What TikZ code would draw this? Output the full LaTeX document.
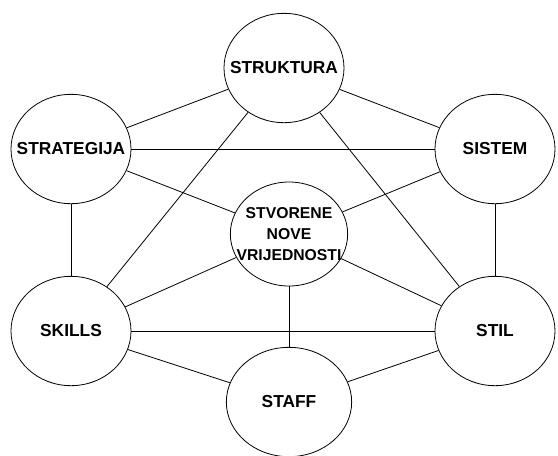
\documentclass[tikz,border=0pt]{standalone}
\usepackage{fontspec}
\setmainfont{Liberation Sans}
\usetikzlibrary{shapes.geometric,positioning}

\begin{document}
\begin{tikzpicture}[x=0.75pt,y=-0.75pt,
  sbox/.style={draw, ellipse, line width=0.6pt, minimum width=90pt, minimum height=82pt, inner xsep=-25pt, inner ysep=0pt, font=\fontsize{13}{14}\selectfont\bfseries},
  link/.style={line width=0.6pt}]
\useasboundingbox (0,0) rectangle (558,455);
\node[sbox] (struktura) at (284,68) {STRUKTURA};
\node[sbox] (strategija) at (71,149) {STRATEGIJA};
\node[sbox] (sistem) at (495,149) {SISTEM};
\node[sbox, align=center, font=\fontsize{11.8}{15.5}\selectfont\bfseries, minimum width=88pt, minimum height=78pt] (vrijednosti) at (289,234) {STVORENE\\NOVE\\VRIJEDNOSTI};
\node[sbox] (skills) at (71,331) {SKILLS};
\node[sbox] (stil) at (495,331) {STIL};
\node[sbox, minimum width=94pt] (staff) at (289,402) {STAFF};

\draw[link] (struktura) -- (strategija);
\draw[link] (struktura) -- (sistem);
\draw[link] (struktura) -- (skills);
\draw[link] (struktura) -- (stil);
\draw[link] (strategija) -- (sistem);
\draw[link] (strategija) -- (vrijednosti);
\draw[link] (strategija) -- (skills);
\draw[link] (sistem) -- (vrijednosti);
\draw[link] (sistem) -- (stil);
\draw[link] (vrijednosti) -- (skills);
\draw[link] (vrijednosti) -- (stil);
\draw[link] (vrijednosti) -- (staff);
\draw[link] (skills) -- (stil);
\draw[link] (skills) -- (staff);
\draw[link] (staff) -- (stil);
\end{tikzpicture}
\end{document}
